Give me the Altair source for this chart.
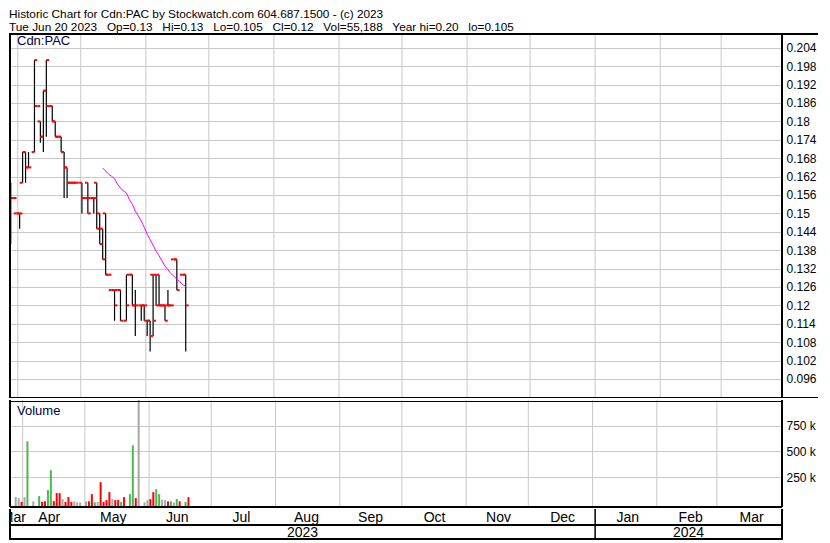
import altair as alt
import pandas as pd
import numpy as np

# ---------------- data (one entry per weekday slot, Mar 29 .. Jun 20 2023) ----------------
dates = [
    "2023-03-29", "2023-03-30", "2023-03-31",
    "2023-04-03", "2023-04-04", "2023-04-05", "2023-04-06", "2023-04-07",
    "2023-04-10", "2023-04-11", "2023-04-12", "2023-04-13", "2023-04-14",
    "2023-04-17", "2023-04-18", "2023-04-19", "2023-04-20", "2023-04-21",
    "2023-04-24", "2023-04-25", "2023-04-26", "2023-04-27", "2023-04-28",
    "2023-05-01", "2023-05-02", "2023-05-03", "2023-05-04", "2023-05-05",
    "2023-05-08", "2023-05-09", "2023-05-10", "2023-05-11", "2023-05-12",
    "2023-05-15", "2023-05-16", "2023-05-17", "2023-05-18", "2023-05-19",
    "2023-05-22", "2023-05-23", "2023-05-24", "2023-05-25", "2023-05-26",
    "2023-05-29", "2023-05-30", "2023-05-31", "2023-06-01", "2023-06-02",
    "2023-06-05", "2023-06-06", "2023-06-07", "2023-06-08", "2023-06-09",
    "2023-06-12", "2023-06-13", "2023-06-14", "2023-06-15", "2023-06-16",
    "2023-06-19", "2023-06-20",
]
N = None
opens = [0.155, 0.155, 0.15, 0.15, 0.16, 0.17, 0.165, N, 0.17, 0.185,
         0.18, 0.175, 0.19, 0.185, 0.185, 0.18, 0.175, 0.175, 0.17, 0.165,
         0.16, 0.16, 0.16, N, 0.16, 0.155, 0.16, 0.155, 0.155, 0.16,
         0.15, 0.145, 0.15, 0.13, 0.125, 0.125, 0.125, 0.125, N, 0.115,
         0.13, 0.13, 0.12, N, 0.12, 0.12, 0.115, 0.115, 0.13, 0.13,
         0.13, 0.12, 0.12, 0.12, 0.12, 0.135, 0.135, N, 0.13, 0.13]
highs = [0.16, 0.155, 0.15, 0.15, 0.17, 0.17, 0.17, N, 0.20, 0.185,
         0.18, 0.19, 0.20, 0.185, 0.185, 0.18, 0.175, 0.175, 0.17, 0.165,
         0.16, 0.16, 0.16, N, 0.16, 0.155, 0.16, 0.155, 0.155, 0.16,
         0.15, 0.145, 0.15, 0.13, 0.125, 0.125, 0.125, 0.125, N, 0.13,
         0.13, 0.13, 0.125, N, 0.12, 0.12, 0.115, 0.115, 0.13, 0.13,
         0.13, 0.12, 0.12, 0.125, 0.12, 0.135, 0.135, N, 0.13, 0.13]
lows = [0.14, 0.155, 0.15, 0.145, 0.16, 0.16, 0.165, N, 0.17, 0.185,
        0.173, 0.17, 0.175, 0.185, 0.18, 0.175, 0.175, 0.17, 0.155, 0.155,
        0.16, 0.16, 0.16, N, 0.15, 0.155, 0.15, 0.155, 0.15, 0.145,
        0.14, 0.135, 0.13, 0.13, 0.125, 0.115, 0.125, 0.115, N, 0.115,
        0.13, 0.12, 0.11, N, 0.115, 0.115, 0.11, 0.105, 0.11, 0.12,
        0.12, 0.12, 0.115, 0.12, 0.12, 0.135, 0.125, N, 0.13, 0.105]
closes = [0.155, 0.155, 0.15, 0.15, 0.17, 0.165, 0.165, N, 0.20, 0.185,
          0.175, 0.19, 0.20, 0.185, 0.18, 0.175, 0.175, 0.17, 0.165, 0.16,
          0.16, 0.16, 0.16, N, 0.155, 0.155, 0.15, 0.155, 0.155, 0.145,
          0.14, 0.135, 0.13, 0.13, 0.125, 0.12, 0.125, 0.115, N, 0.12,
          0.13, 0.12, 0.12, N, 0.12, 0.12, 0.115, 0.11, 0.115, 0.12,
          0.12, 0.12, 0.115, 0.12, 0.12, 0.135, 0.125, N, 0.13, 0.12]
volumes = [56000, 46000, 10000, 56000, 599000, 0, 15000, 0, 66000, 10000,
           15000, 124000, 318000, 17000, 95000, 95000, 37000, 10000, 56000, 10000,
           15000, 5000, 5000, 0, 15000, 15000, 85000, 5000, 10000, 201000,
           10000, 27000, 105000, 37000, 27000, 30000, 10000, 56000, 0, 85000,
           560000, 46000, 1200000, 0, 5000, 27000, 37000, 105000, 134000, 85000,
           30000, 27000, 15000, 15000, 5000, 37000, 15000, 0, 10000, 55188]
vol_dir = ["flat", "flat", "down", "flat", "up", "flat", "flat", "flat", "up", "down",
           "down", "up", "up", "down", "down", "down", "flat", "down", "down", "down",
           "flat", "flat", "flat", "flat", "flat", "down", "down", "up", "flat", "down",
           "down", "down", "down", "flat", "down", "down", "up", "down", "flat", "up",
           "up", "down", "flat", "flat", "flat", "flat", "down", "down", "up", "up",
           "flat", "flat", "down", "up", "flat", "up", "down", "flat", "up", "down"]
ma_first = 31
ma_values = [0.1648, 0.1638, 0.1628, 0.1621, 0.1613, 0.1595, 0.1583, 0.1573, 0.1567, 0.1545,
             0.1530, 0.1507, 0.1492, 0.1475, 0.1455, 0.1432, 0.1414, 0.1396, 0.1377, 0.1362,
             0.1345, 0.1328, 0.1316, 0.1304, 0.1295, 0.1286, 0.1277, 0.1268, 0.1262]

price_ticks = [0.096, 0.102, 0.108, 0.114, 0.12, 0.126, 0.132, 0.138, 0.144, 0.15,
               0.156, 0.162, 0.168, 0.174, 0.18, 0.186, 0.192, 0.198, 0.204]
vol_ticks = [250000, 500000, 750000]
month_starts = ["2023-04-01", "2023-05-01", "2023-06-01", "2023-07-01", "2023-08-01",
                "2023-09-01", "2023-10-01", "2023-11-01", "2023-12-01", "2024-01-01",
                "2024-02-01", "2024-03-01"]
month_names = ["Mar", "Apr", "May", "Jun", "Jul", "Aug", "Sep", "Oct", "Nov", "Dec",
               "Jan", "Feb", "Mar"]
year_names = ["2023", "2024"]
year_start = "2024-01-01"

title1 = "Historic Chart for Cdn:PAC by Stockwatch.com 604.687.1500 - (c) 2023"
S = "\u00a0\u00a0 "
title2 = ("Tue Jun 20 2023" + S + "Op=0.13" + S + "Hi=0.13" + S + "Lo=0.105" + S +
          "Cl=0.12" + S + "Vol=55,188" + S + "Year hi=0.20" + S + "lo=0.105")

# ---------------- layout constants ----------------
W, HP, HV, HA = 772, 364, 107, 31
RIGHT = 36
SLOT_DAYS = 1.4127          # one weekday slot, in calendar days
D0, D1 = -3.7, 364.0        # view, in days from 2023-04-01
FONT = "Liberation Sans, Arial, sans-serif"
NARROW = "Liberation Sans Narrow, Arial Narrow, Liberation Sans, Arial"
GRID = "#C8C8C8"

# ---------------- derived ----------------
origin = pd.Timestamp("2023-04-01")
def dnum(s):
    return (pd.Timestamp(s) - origin).days

slots_back = np.array([np.busday_count(d, dates[-1]) for d in dates])
pos = dnum(dates[-1]) - slots_back * SLOT_DAYS

df = pd.DataFrame({"pos": pos, "open": opens, "high": highs, "low": lows,
                   "close": closes, "vol": volumes, "dir": vol_dir})
df["pl"] = df["pos"] - SLOT_DAYS * 0.95
df["pr"] = df["pos"] + SLOT_DAYS * 0.95
px = df.dropna(subset=["close"])
vdf = df[df["vol"] > 0]
ma = pd.DataFrame({"pos": pos[ma_first:ma_first + len(ma_values)], "ma": ma_values})

ms = [dnum(m) for m in month_starts]
bounds = [D0] + ms + [D1]
mlab = pd.DataFrame({"pos": [(bounds[i] + bounds[i + 1]) / 2 for i in range(len(bounds) - 1)],
                     "t": month_names})
ylab = pd.DataFrame({"pos": [(D0 + dnum(year_start)) / 2, (dnum(year_start) + D1) / 2],
                     "t": year_names})
grid_df = pd.DataFrame({"pos": ms})
one = pd.DataFrame({"a": [0]})

xs = alt.Scale(domain=[D0, D1], nice=False, zero=False)
X = lambda f="pos": alt.X(f + ":Q", scale=xs, axis=None)


def border(x=None, x2=None, y=None, y2=None, w=2, color="black"):
    enc = {}
    if x is not None: enc["x"] = alt.value(x)
    if x2 is not None: enc["x2"] = alt.value(x2)
    if y is not None: enc["y"] = alt.value(y)
    if y2 is not None: enc["y2"] = alt.value(y2)
    return alt.Chart(one).mark_rule(color=color, strokeWidth=w).encode(**enc)


def label(text, x, y, size=12, color="black", font=FONT, align="left", baseline="top"):
    return alt.Chart(pd.DataFrame({"t": [text]})).mark_text(
        align=align, baseline=baseline, font=font, fontSize=size, color=color
    ).encode(text="t:N", x=alt.value(x), y=alt.value(y))


# ---------------- price panel ----------------
ysc = alt.Scale(domain=[0.0898, 0.2085], nice=False, zero=False)
yaxis = alt.Axis(orient="right", values=price_ticks, format=".3~f", grid=True,
                 gridColor=GRID, gridWidth=1, domain=False, ticks=False,
                 labelOverlap=False, labelPadding=4, labelFont=FONT, labelFontSize=12,
                 labelColor="black", title=None)
Yp = lambda f: alt.Y(f + ":Q", scale=ysc, axis=yaxis)

hgrid = alt.Chart(pd.DataFrame({"v": price_ticks})).mark_rule(opacity=0).encode(y=Yp("v"))
vgrid = alt.Chart(grid_df).mark_rule(color=GRID, strokeWidth=1).encode(x=X())
hl = alt.Chart(px).mark_rule(color="black", strokeWidth=1.2, clip=True).encode(
    x=X(), y=Yp("low"), y2="high:Q")
otick = alt.Chart(px).mark_rule(color="#FF0000", strokeWidth=2, clip=True).encode(
    x=X("pl"), x2="pos:Q", y=Yp("open"))
ctick = alt.Chart(px).mark_rule(color="#FF0000", strokeWidth=2, clip=True).encode(
    x=X(), x2="pr:Q", y=Yp("close"))
maline = alt.Chart(ma).mark_line(color="#FF00FF", strokeWidth=1).encode(
    x=X(), y=Yp("ma"))

price = alt.layer(
    hgrid, vgrid, hl, otick, ctick, maline,
    label("Cdn:PAC", 7, 0.5, size=13, color="#000040"),
    label(title1, -1, -25.5, size=11.8),
    label(title2, -1, -12.5, size=11.8),
    border(x=0, y=0, y2=HP),
    border(x=W, y=0, y2=HP),
    border(x=-1, x2=W + RIGHT, y=0),
    border(x=0, x2=W + RIGHT, y=HP - 0.5, w=1),
).properties(width=W, height=HP)

# ---------------- volume panel ----------------
vsc = alt.Scale(domain=[-40000, 1000000], nice=False, zero=False)
vaxis = alt.Axis(orient="right", values=vol_ticks, grid=True, gridColor=GRID,
                 domain=False, ticks=False, labelPadding=4, labelFont=FONT,
                 labelFontSize=12, labelColor="black", title=None, labelOverlap=False,
                 labelExpr="datum.value / 1000 + ' k'")
vh = alt.Chart(pd.DataFrame({"v": vol_ticks})).mark_rule(opacity=0).encode(
    y=alt.Y("v:Q", scale=vsc, axis=vaxis))
vbars = alt.Chart(vdf).mark_bar(size=2, clip=True).encode(
    x=X(), y=alt.Y("vol:Q", scale=vsc, axis=vaxis), y2=alt.datum(-40000),
    color=alt.Color("dir:N", legend=None,
                    scale=alt.Scale(domain=["up", "down", "flat"],
                                    range=["#4DB84D", "#FF0000", "#A8A8A8"])))
volume = alt.layer(
    vh, vgrid, vbars,
    label("Volume", 7, 5, size=13, color="#000040"),
    border(x=0, y=0, y2=HV),
    border(x=W, y=0, y2=HV),
    border(x=0, x2=W, y=1.5, w=1),
    border(x=0, x2=W, y=HV),
).properties(width=W, height=HV)

# ---------------- date axis rows ----------------
mtext = alt.Chart(mlab).mark_text(baseline="middle", font=NARROW,
                                  fontSize=14, color="black", clip=True).encode(
    x=X(), y=alt.value(8.5), text="t:N")
ytext = alt.Chart(ylab).mark_text(baseline="middle", font=NARROW,
                                  fontSize=14, color="black").encode(
    x=X(), y=alt.value(23.5), text="t:N")
ysep = alt.Chart(pd.DataFrame({"pos": [dnum(year_start)]})).mark_rule(
    color="black", strokeWidth=1.5).encode(x=X(), y=alt.value(0), y2=alt.value(HA))
axisrows = alt.layer(
    mtext, ytext, ysep,
    border(x=0, y=0, y2=HA),
    border(x=W, y=0, y2=HA),
    border(x=0, x2=W, y=16),
    border(x=0, x2=W, y=HA - 1),
).properties(width=W, height=HA)

chart = alt.vconcat(price, volume, axisrows, spacing=0).properties(
    padding={"left": 0, "top": 0, "right": 0, "bottom": 0}, background="white"
).configure_view(stroke=None).configure_axis(labelOverlap=False)

chart.save("out.html", embed_options={"renderer": "svg", "actions": False})
